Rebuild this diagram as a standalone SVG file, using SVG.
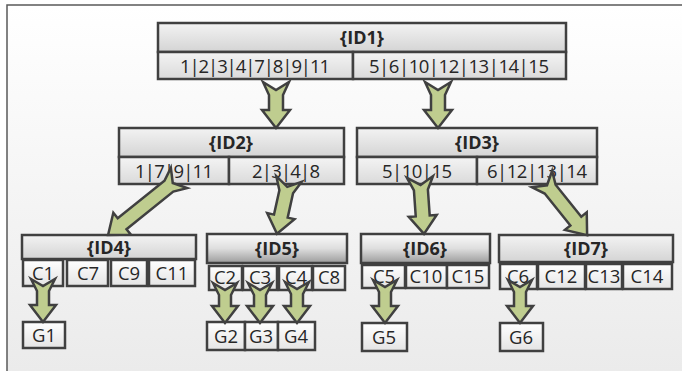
<svg xmlns="http://www.w3.org/2000/svg" width="682" height="371" viewBox="0 0 682 371">
  <defs>
    <linearGradient id="bg" x1="0" y1="0" x2="0" y2="1">
      <stop offset="0" stop-color="#ffffff"/>
      <stop offset="1" stop-color="#ebebeb"/>
    </linearGradient>
    <linearGradient id="hdr" x1="0" y1="0" x2="0" y2="1">
      <stop offset="0" stop-color="#f3f3f3"/>
      <stop offset="1" stop-color="#d4d4d4"/>
    </linearGradient>
    <linearGradient id="hdrDark" x1="0" y1="0" x2="0" y2="1">
      <stop offset="0" stop-color="#fbfbfb"/>
      <stop offset="0.5" stop-color="#dedede"/>
      <stop offset="1" stop-color="#9c9c9c"/>
    </linearGradient>
    <linearGradient id="row" x1="0" y1="0" x2="0" y2="1">
      <stop offset="0" stop-color="#f4f4f4"/>
      <stop offset="1" stop-color="#dadada"/>
    </linearGradient>
    <linearGradient id="cell" x1="0" y1="0" x2="0" y2="1">
      <stop offset="0" stop-color="#ffffff"/>
      <stop offset="1" stop-color="#e4e4e4"/>
    </linearGradient>
  </defs>
  <style>
    .box { stroke: #404040; stroke-width: 2.5; }
    .hdr { fill: url(#hdr); }
    .hdrd { fill: url(#hdrDark); }
    .row { fill: url(#row); }
    .cell { fill: url(#cell); }
    .t { font-family: "Open Sans", "Liberation Sans", sans-serif; font-size: 18.5px; fill: #262626; text-anchor: middle; }
    .b { font-weight: bold; font-size: 18px; }
    .arrow { fill: #bfcd8f; stroke: #404040; stroke-width: 2.5; stroke-linejoin: miter; }
  </style>

  <!-- panel -->
  <rect x="0" y="0" width="682" height="371" fill="#ffffff"/>
  <rect x="7" y="5" width="675" height="366" fill="url(#bg)"/>
  <path d="M7,371 L7,5 L682,5" fill="none" stroke="#5a5a5a" stroke-width="1.5"/>

  <!-- level 1 -->
  <g id="ID1">
    <rect class="box hdr" x="158" y="23" width="408" height="29"/>
    <rect class="box row" x="158" y="52" width="195" height="27"/>
    <rect class="box row" x="353" y="52" width="213" height="27"/>
    <text class="t b" x="362" y="44">{ID1}</text>
    <text class="t" x="255" y="73" textLength="150" lengthAdjust="spacing">1|2|3|4|7|8|9|11</text>
    <text class="t" x="459" y="73" textLength="180" lengthAdjust="spacing">5|6|10|12|13|14|15</text>
  </g>

  <!-- level 2 -->
  <g id="ID2">
    <rect class="box hdr" x="119" y="128" width="225" height="29"/>
    <rect class="box row" x="119" y="157" width="110" height="27"/>
    <rect class="box row" x="229" y="157" width="115" height="27"/>
    <text class="t b" x="231" y="149">{ID2}</text>
    <text class="t" x="174" y="178" textLength="78" lengthAdjust="spacing">1|7|9|11</text>
    <text class="t" x="286" y="178" textLength="68" lengthAdjust="spacing">2|3|4|8</text>
  </g>
  <g id="ID3">
    <rect class="box hdr" x="357" y="128" width="240" height="29"/>
    <rect class="box row" x="357" y="157" width="120" height="27"/>
    <rect class="box row" x="477" y="157" width="120" height="27"/>
    <text class="t b" x="477" y="149">{ID3}</text>
    <text class="t" x="417" y="178" textLength="70" lengthAdjust="spacing">5|10|15</text>
    <text class="t" x="537" y="178" textLength="100" lengthAdjust="spacing">6|12|13|14</text>
  </g>

  <!-- level 3 -->
  <g id="ID4">
    <rect class="box hdr" x="22" y="235" width="174" height="24"/>
    <rect class="box cell" x="23" y="260" width="40" height="26"/>
    <rect class="box cell" x="67" y="260" width="41" height="26"/>
    <rect class="box cell" x="111" y="260" width="36" height="26"/>
    <rect class="box cell" x="149" y="260" width="46" height="26"/>
    <text class="t b" x="109" y="254">{ID4}</text>
    <text class="t" x="43" y="280">C1</text>
    <text class="t" x="88" y="280">C7</text>
    <text class="t" x="129" y="280">C9</text>
    <text class="t" x="172" y="280">C11</text>
  </g>
  <g id="ID5">
    <rect class="box hdrd" x="207" y="234" width="140" height="29"/>
    <rect class="box cell" x="209" y="266" width="33" height="24"/>
    <rect class="box cell" x="243" y="266" width="34" height="24"/>
    <rect class="box cell" x="279" y="266" width="33" height="24"/>
    <rect class="box cell" x="313" y="266" width="32" height="24"/>
    <text class="t b" x="277" y="255">{ID5}</text>
    <text class="t" x="225" y="284">C2</text>
    <text class="t" x="260" y="284">C3</text>
    <text class="t" x="296" y="284">C4</text>
    <text class="t" x="329" y="284">C8</text>
  </g>
  <g id="ID6">
    <rect class="box hdrd" x="361" y="234" width="129" height="29"/>
    <rect class="box cell" x="362" y="265" width="43" height="23"/>
    <rect class="box cell" x="406" y="265" width="41" height="23"/>
    <rect class="box cell" x="447" y="265" width="42" height="23"/>
    <text class="t b" x="425" y="255">{ID6}</text>
    <text class="t" x="384" y="283">C5</text>
    <text class="t" x="426" y="283">C10</text>
    <text class="t" x="468" y="283">C15</text>
  </g>
  <g id="ID7">
    <rect class="box hdr" x="499" y="235" width="174" height="27"/>
    <rect class="box cell" x="500" y="264" width="37" height="25"/>
    <rect class="box cell" x="538" y="264" width="47" height="25"/>
    <rect class="box cell" x="586" y="264" width="36" height="25"/>
    <rect class="box cell" x="623" y="264" width="49" height="25"/>
    <text class="t b" x="586" y="255">{ID7}</text>
    <text class="t" x="518" y="283">C6</text>
    <text class="t" x="561" y="283">C12</text>
    <text class="t" x="604" y="283">C13</text>
    <text class="t" x="647" y="283">C14</text>
  </g>

  <!-- leaves -->
  <g id="G1"><rect class="box cell" x="23" y="322" width="42" height="26"/><text class="t" x="44" y="342">G1</text></g>
  <g id="G2"><rect class="box cell" x="207" y="322" width="38" height="28"/><text class="t" x="226" y="343">G2</text></g>
  <g id="G3"><rect class="box cell" x="245" y="322" width="33" height="28"/><text class="t" x="261" y="343">G3</text></g>
  <g id="G4"><rect class="box cell" x="278" y="322" width="37" height="28"/><text class="t" x="296" y="343">G4</text></g>
  <g id="G5"><rect class="box cell" x="362" y="323" width="45" height="28"/><text class="t" x="384" y="344">G5</text></g>
  <g id="G6"><rect class="box cell" x="500" y="323" width="43" height="28"/><text class="t" x="521" y="344">G6</text></g>

  <!-- connectors: notched block arrows, tail at origin, pointing along +y -->
  <g id="connectors">
    <path class="arrow" transform="translate(276,82)" d="M-13,0 L0,8 L13,0 L7,13 L7,28 L14,28 L0,46 L-14,28 L-7,28 L-7,13 Z"/>
    <path class="arrow" transform="translate(438,82)" d="M-13,0 L0,8 L13,0 L7,13 L7,28 L14,28 L0,46 L-14,28 L-7,28 L-7,13 Z"/>
    <path class="arrow" transform="translate(179,178) rotate(51.2)" d="M-13,0 L0,8 L13,0 L7,13 L7,73 L14,73 L0,91 L-14,73 L-7,73 L-7,13 Z"/>
    <path class="arrow" transform="translate(289,179) rotate(12.4)" d="M-13,0 L0,8 L13,0 L7,13 L7,38 L14,38 L0,56 L-14,38 L-7,38 L-7,13 Z"/>
    <path class="arrow" transform="translate(420,177) rotate(-4)" d="M-13,0 L0,8 L13,0 L7,13 L7,39 L14,39 L0,57 L-14,39 L-7,39 L-7,13 Z"/>
    <path class="arrow" transform="translate(542,179) rotate(-38.8)" d="M-13,0 L0,8 L13,0 L7,13 L7,54 L14,54 L0,72 L-14,54 L-7,54 L-7,13 Z"/>
    <path class="arrow" transform="translate(43,279)" d="M-12,0 L0,7 L12,0 L6,12 L6,26 L13,26 L0,43 L-13,26 L-6,26 L-6,12 Z"/>
    <path class="arrow" transform="translate(225,283)" d="M-12,0 L0,7 L12,0 L6,12 L6,23 L13,23 L0,40 L-13,23 L-6,23 L-6,12 Z"/>
    <path class="arrow" transform="translate(260,283)" d="M-12,0 L0,7 L12,0 L6,12 L6,23 L13,23 L0,40 L-13,23 L-6,23 L-6,12 Z"/>
    <path class="arrow" transform="translate(297,282)" d="M-12,0 L0,7 L12,0 L6,12 L6,24 L13,24 L0,41 L-13,24 L-6,24 L-6,12 Z"/>
    <path class="arrow" transform="translate(385,280)" d="M-12,0 L0,7 L12,0 L6,12 L6,26 L13,26 L0,43 L-13,26 L-6,26 L-6,12 Z"/>
    <path class="arrow" transform="translate(520,280)" d="M-12,0 L0,7 L12,0 L6,12 L6,26 L13,26 L0,43 L-13,26 L-6,26 L-6,12 Z"/>
  </g>
</svg>
